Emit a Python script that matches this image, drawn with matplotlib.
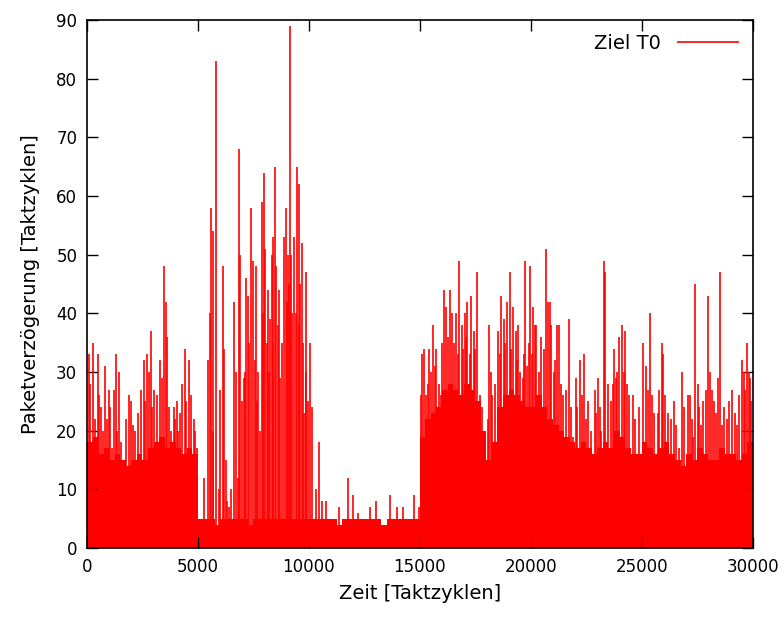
import matplotlib
matplotlib.use("Agg")
import matplotlib.pyplot as plt
import numpy as np

basis_t = np.arange(0, 30001, 250)
basis_v = [18, 19, 16, 17, 15, 16, 15, 14, 15, 16, 15, 17, 18, 19, 17, 18, 17, 16, 17, 16,
           5, 5, 5, 4, 5, 5, 5, 5, 5, 4, 5, 5, 5, 5, 5, 5, 5, 5, 5, 5,
           5, 5, 5, 5, 5, 4, 5, 5, 5, 5, 5, 5, 5, 4, 5, 5, 5, 5, 5, 5,
           19, 22, 23, 24, 27, 28, 27, 26, 28, 27, 25, 20, 15, 18, 24, 26, 27, 26, 25, 24,
           24, 26, 24, 22, 21, 20, 19, 18, 17, 18, 17, 16, 17, 18, 17, 20, 19, 17, 16, 16,
           18, 17, 16, 17, 18, 16, 15, 14, 16, 15, 17, 16, 15, 15, 17, 16, 16, 15, 16, 18,
           18]

# Spitzen der Paketverzoegerung
spitzen_t = [75, 270, 480, 630, 826, 976, 1126, 1306, 1426, 1652, 1877, 1982, 2177, 2447,
             2553, 2703, 2883, 3033, 3303, 3484, 3574, 3679, 3904, 4054, 4204, 4399, 4609,
             4805, 4955,
             5285, 5435, 5526, 5601, 5676, 5811, 6006, 6111, 6186, 6381, 6607, 6700, 6832,
             6907, 7000, 7057, 7162, 7237, 7300, 7387, 7477, 7613, 7700, 7800, 7868, 7958,
             8033, 8100, 8153, 8258, 8333, 8378, 8468, 8529, 8600, 8649, 8709, 8859, 8949,
             9000, 9039, 9129, 9189, 9250, 9339, 9459, 9535, 9600, 9685, 9750, 9790, 9880,
             10045, 10135,
             10300, 10450, 10570, 10750, 11350, 11742, 11967, 12200, 12750, 13018, 13649,
             13950, 14220, 14745, 14970,
             15120, 15195, 15270, 15420, 15600, 15750, 15975, 16081, 16171, 16381, 16470,
             16652, 16772, 16880, 17027, 17147, 17327, 17430, 17598, 17700, 17928, 18003,
             18123, 18270, 18528, 18648, 18780, 18934, 19054, 19204, 19320, 19430, 19550,
             19650, 19760, 19850, 19955, 20105, 20180,
             20254, 20479, 20704, 20778, 20853, 20928, 21048, 21198, 21272, 21452, 21707,
             21901, 22051, 22201, 22380, 22500, 22725, 22874, 23024, 23174, 23323, 23368,
             23473, 23772, 23847, 23997, 24102, 24266, 24446, 24596, 24775, 25075, 25195,
             25374, 25569, 25719, 25898, 25973, 26168, 26437, 26692, 26811, 27066, 27171,
             27320, 27410, 27515, 27665, 27889, 28009, 28159, 28338, 28428, 28533, 28638,
             28937, 29087, 29311, 29506, 29611, 29731, 29835, 29940]
spitzen_v = [33, 35, 33, 24, 31, 27, 17, 33, 30, 15, 26, 25, 20, 27,
             32, 33, 37, 27, 32, 48, 42, 24, 24, 25, 23, 34, 32,
             22, 17,
             12, 32, 40, 58, 54, 83, 27, 48, 34, 7, 42, 30, 68,
             50, 25, 29, 46, 43, 35, 58, 49, 48, 30, 20, 59, 64,
             51, 35, 44, 39, 50, 53, 65, 48, 38, 44, 29, 53, 58,
             42, 50, 89, 50, 40, 53, 65, 62, 45, 52, 35, 23, 47,
             35, 24,
             10, 18, 8, 8, 7, 12, 9, 6, 7, 8, 9,
             7, 7, 9, 7,
             33, 34, 26, 34, 38, 34, 26, 44, 41, 44, 40,
             40, 49, 38, 40, 42, 43, 37, 47, 26, 17, 15,
             38, 26, 37, 43, 39, 42, 47, 41, 37, 38, 24,
             29, 49, 31, 48, 41, 38,
             38, 36, 51, 42, 42, 38, 30, 38, 38, 26, 39,
             19, 29, 32, 33, 22, 20, 27, 29, 20, 49, 47,
             28, 34, 29, 36, 38, 37, 26, 26, 16, 35, 31,
             40, 23, 23, 35, 33, 23, 25, 17, 30, 26, 26,
             19, 45, 28, 21, 27, 43, 27, 23, 29, 47, 21,
             25, 27, 21, 32, 30, 35, 30, 25]

# kleinere Ausschlaege zwischen den Spitzen
zwischen_t = [150, 350, 560, 720, 900, 1050, 1200, 1350, 1550, 1750, 2080, 2300, 2620,
              2800, 2950, 3150, 3380, 3620, 3780, 3980, 4120, 4300, 4480, 4700, 4880,
              5700, 5950, 6250, 6300, 6500, 6800, 7100, 7550, 7650, 7920, 8200, 8400,
              8800, 9100, 9400, 9550, 9850, 9950,
              15050, 15350, 15500, 15680, 15850, 16000, 16250, 16550, 16720, 16950, 17100,
              17250, 17500, 17800, 18050, 18200, 18400, 18600, 18850, 19120, 19380, 19500,
              19700, 19900,
              20050, 20350, 20600, 21100, 21350, 21600, 21800, 22100, 22300, 22600, 22950,
              23100, 23600, 23700, 23900, 24200, 24350, 24700, 24900, 25300, 25450, 25800,
              26050, 26300, 26550, 26900, 27250, 27600, 27750, 28100, 28250, 28700, 28850,
              29200, 29400, 29650, 29900]
zwischen_v = [28, 22, 26, 20, 22, 24, 27, 20, 18, 22, 21, 23, 25,
              30, 24, 26, 29, 36, 20, 22, 20, 28, 25, 26, 20,
              20, 10, 15, 8, 10, 12, 30, 32, 25, 40, 30, 35,
              35, 45, 40, 38, 30, 25,
              26, 28, 30, 31, 28, 35, 36, 35, 33, 34, 36,
              33, 34, 24, 22, 30, 28, 33, 35, 34, 32, 30,
              33, 35,
              33, 30, 34, 32, 28, 27, 24, 24, 26, 25, 23,
              24, 25, 28, 30, 30, 28, 22, 24, 27, 26, 27,
              26, 22, 21, 24, 22, 24, 25, 30, 25, 24, 22,
              23, 26, 27, 29]

fig = plt.figure(figsize=(7.84, 6.19), dpi=100)
ax = fig.add_axes([0.111, 0.1147, 0.849, 0.853])

ax.fill_between(basis_t, 0, basis_v, step="post", color="#ff0000", lw=0)
ax.vlines(zwischen_t, 0, zwischen_v, color="#ff0000", lw=1.2)
ax.vlines(spitzen_t, 0, spitzen_v, color="#ff0000", lw=1.2, label="Ziel T0")

ax.set_xlim(0, 30000)
ax.set_ylim(0, 90)
ax.set_xticks(range(0, 30001, 5000))
ax.set_yticks(range(0, 91, 10))
ax.tick_params(direction="in", top=True, right=True, length=8, width=1,
               labelsize=12, pad=7)
for s in ax.spines.values():
    s.set_linewidth(1.2)

ax.set_xlabel("Zeit [Taktzyklen]", fontsize=14, labelpad=6)
ax.set_ylabel("Paketverzögerung [Taktzyklen]", fontsize=14, labelpad=12)

ax.legend(loc="upper right", frameon=False, markerfirst=False, fontsize=14,
          handlelength=3.2, borderaxespad=0.3)

fig.savefig("out.png", dpi=100)
